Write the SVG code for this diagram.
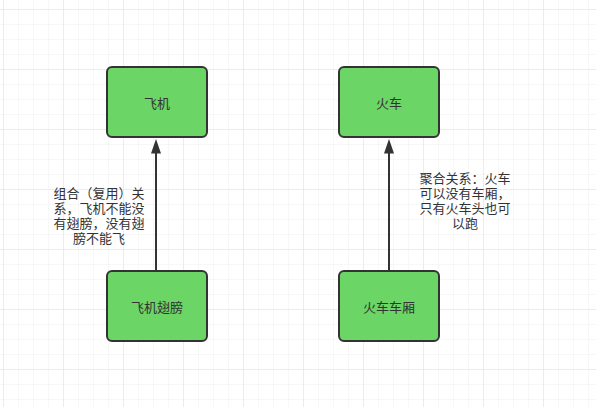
<svg xmlns="http://www.w3.org/2000/svg" width="596" height="407" viewBox="0 0 596 407">
<defs>
<pattern id="minor" x="3" y="9" width="15" height="15" patternUnits="userSpaceOnUse">
<path d="M0 0V15M0 0H15" fill="none" stroke="#efefef" stroke-width="1"/>
</pattern>
<pattern id="major" x="3" y="9" width="60" height="60" patternUnits="userSpaceOnUse">
<path d="M0 0V60M0 0H60" fill="none" stroke="#e2e2e2" stroke-width="1"/>
</pattern>
<style>
.node rect{fill:#6bd566;stroke:#333;stroke-width:2}
text{font-family:"Noto Sans CJK SC","Microsoft YaHei",sans-serif;font-size:13px;fill:#333;text-anchor:middle;dominant-baseline:central}
.edge line{stroke:#333;stroke-width:2}
.edge path{fill:#333}
</style>
</defs>
<rect width="596" height="407" fill="#fff"/>
<rect width="596" height="407" fill="url(#minor)"/>
<rect width="596" height="407" fill="url(#major)"/>
<g id="connectors" class="edge">
<line x1="156" y1="271" x2="156" y2="153"/>
<path d="M151 153.5L156 139L161 153.5Z"/>
<line x1="389" y1="271" x2="389" y2="153"/>
<path d="M384 153.5L389 139L394 153.5Z"/>
</g>
<g id="label1">
<text x="99" y="192"><tspan x="99">组合（复用）关</tspan><tspan x="99" dy="15">系，飞机不能没</tspan><tspan x="99" dy="15">有翅膀，没有翅</tspan><tspan x="99" dy="15">膀不能飞</tspan></text>
</g>
<g id="label2">
<text x="465" y="176.5"><tspan x="465">聚合关系：火车</tspan><tspan x="465" dy="15">可以没有车厢，</tspan><tspan x="465" dy="15">只有火车头也可</tspan><tspan x="465" dy="15">以跑</tspan></text>
</g>
<g id="feiji" class="node"><rect x="107" y="67" width="100" height="70" rx="5"/><text x="157" y="102">飞机</text></g>
<g id="huoche" class="node"><rect x="339" y="67" width="100" height="70" rx="5"/><text x="389" y="102">火车</text></g>
<g id="chibang" class="node"><rect x="107" y="271" width="100" height="70" rx="5"/><text x="157" y="306">飞机翅膀</text></g>
<g id="chexiang" class="node"><rect x="339" y="271" width="100" height="70" rx="5"/><text x="389" y="306">火车车厢</text></g>
</svg>
